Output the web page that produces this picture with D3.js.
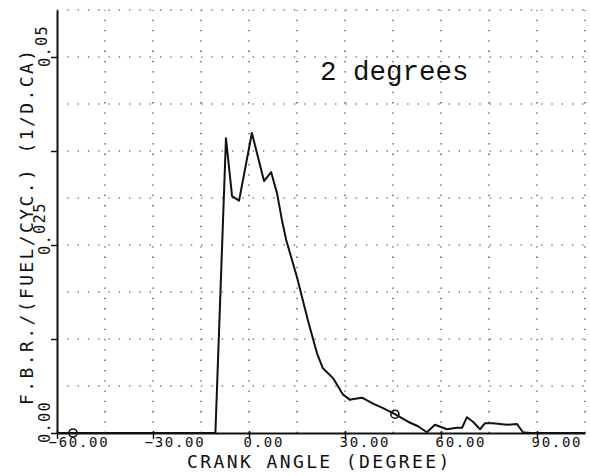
<!DOCTYPE html>
<html>
<head>
<meta charset="utf-8">
<script src="https://cdn.jsdelivr.net/npm/d3@7"></script>
<style>
  html, body { margin: 0; padding: 0; background: #fff; }
  svg { display: block; }
  .plotter { font-family: "DejaVu Sans Mono", monospace; fill: #111; }
</style>
</head>
<body>
<svg id="chart" width="590" height="476"></svg>
<script>
// Fuel burning rate vs crank angle (2 degrees case)
const angles = [-60, -55, -10.5, -7.2, -5.3, -3.1, 0.9, 4.7, 6.9, 8.75, 10.3, 11.6, 15.0, 18.4,
  21.25, 23.1, 26.25, 29.4, 31.6, 32.2, 35.3, 38.75, 41.9, 45.6, 49.7, 52.8, 55.6, 58.1, 61.9,
  65.0, 66.6, 68.1, 70.0, 72.2, 73.75, 76.25, 80.6, 83.75, 85.6, 87.8, 105];
const fbr = [0, 0, 0, 0.0392, 0.0315, 0.0309, 0.0399, 0.0335, 0.0347, 0.0319, 0.0283, 0.0257,
  0.0207, 0.0150, 0.0106, 0.0086, 0.0073, 0.0051, 0.0044, 0.0045, 0.0047, 0.0039, 0.0033,
  0.0025, 0.0015, 0.0009, 0.0001, 0.0011, 0.0005, 0.0007, 0.0007, 0.0021, 0.0015, 0.0005,
  0.0013, 0.0013, 0.0011, 0.0012, 0.0001, 0, 0];
// Circled points on the curve
const markerAngles = [-55, 45.6];

const xTicks = [-60, -30, 0, 30, 60, 90];
const xGrid = [-45, -30, -15, 0, 15, 30, 45, 60, 75, 90, 105];
const yTickValues = [0, 0.0125, 0.025, 0.0375, 0.05];
const yLabelValues = [0, 0.025, 0.05];
const yLabelText = ["0.00", "0.025", "0.05"];
const yGrid = [0.00625, 0.0125, 0.01875, 0.025, 0.03125, 0.0375, 0.04375, 0.05, 0.05625];

const xTitle = "CRANK ANGLE (DEGREE)";
const yTitle = "F.B.R./(FUEL/CYC.) (1/D.CA)";
const note = "2 degrees";

const svg = d3.select("#chart");
const x = d3.scaleLinear().domain([-60, 105]).range([57, 585]);
const y = d3.scaleLinear().domain([0, 0.05625]).range([433, 10]);

// dotted grid
const grid = svg.append("g").attr("stroke", "#333").attr("stroke-width", 1.2)
  .attr("stroke-dasharray", "1.3,9").attr("fill", "none");
grid.selectAll("line.v").data(xGrid).join("line").attr("class", "v")
  .attr("x1", d => x(d)).attr("x2", d => x(d)).attr("y1", y(0)).attr("y2", y(0.05625));
grid.selectAll("line.h").data(yGrid).join("line").attr("class", "h")
  .attr("x1", x(-60)).attr("x2", x(105)).attr("y1", d => y(d)).attr("y2", d => y(d));

// axes
const xAxis = d3.axisBottom(x).tickValues(xTicks).tickSize(6).tickSizeOuter(0)
  .tickFormat(d3.format(".2f"));
const gx = svg.append("g").attr("transform", `translate(0,${y(0)})`).call(xAxis);
gx.select(".domain").attr("stroke", "#111").attr("stroke-width", 2);
gx.selectAll(".tick line").attr("stroke", "#111").attr("stroke-width", 1.5).attr("y1", -2);
gx.selectAll(".tick text").attr("class", "plotter").attr("font-size", 14)
  .attr("letter-spacing", 1.7).attr("text-anchor", "start").attr("dy", null)
  .attr("x", d => d < 0 ? -9 : -6).attr("y", 14);

const yAxis = d3.axisLeft(y).tickValues(yTickValues).tickSize(6).tickSizeOuter(0)
  .tickFormat("");
const gy = svg.append("g").attr("transform", `translate(${x(-60)},0)`).call(yAxis);
gy.select(".domain").attr("stroke", "#111").attr("stroke-width", 2);
gy.selectAll(".tick line").attr("stroke", "#111").attr("stroke-width", 1.5).attr("x2", -6).attr("x1", 1);

// rotated y tick labels
const yl = svg.append("g");
yLabelValues.forEach((v, i) => {
  const t = yl.append("text").attr("class", "plotter").attr("font-size", 15.5)
    .attr("letter-spacing", 1.2)
    .attr("transform", `translate(50,${y(v) + 10}) rotate(-90)`);
  const parts = yLabelText[i].split(".");
  t.append("tspan").text(parts[0] + ".");
  t.append("tspan").attr("dy", i === 1 ? -5 : i === 2 ? -3 : 0).text(parts[1]);
});

// titles
svg.append("text").attr("class", "plotter").attr("font-size", 18).attr("letter-spacing", 2.4)
  .attr("x", 187).attr("y", 468).text(xTitle);
svg.append("text").attr("class", "plotter").attr("font-size", 18).attr("letter-spacing", 2.4)
  .attr("transform", "translate(33,405) rotate(-90)").text(yTitle);

// annotation
svg.append("text").attr("x", 320).attr("y", 80)
  .attr("font-family", "'Liberation Mono', 'Courier New', monospace")
  .attr("font-size", 27.5).attr("fill", "#111").text(note);

// burning rate curve
const pts = angles.map((a, i) => [a, fbr[i]]);
const line = d3.line().x(d => x(d[0])).y(d => y(d[1]));
svg.append("path").datum(pts).attr("d", line).attr("fill", "none")
  .attr("stroke", "#111").attr("stroke-width", 2).attr("stroke-linejoin", "round");

svg.selectAll("circle.mk").data(markerAngles).join("circle").attr("class", "mk")
  .attr("cx", a => x(a)).attr("cy", a => y(fbr[angles.indexOf(a)]))
  .attr("r", 4).attr("fill", "none").attr("stroke", "#111").attr("stroke-width", 1.6);
</script>
</body>
</html>
